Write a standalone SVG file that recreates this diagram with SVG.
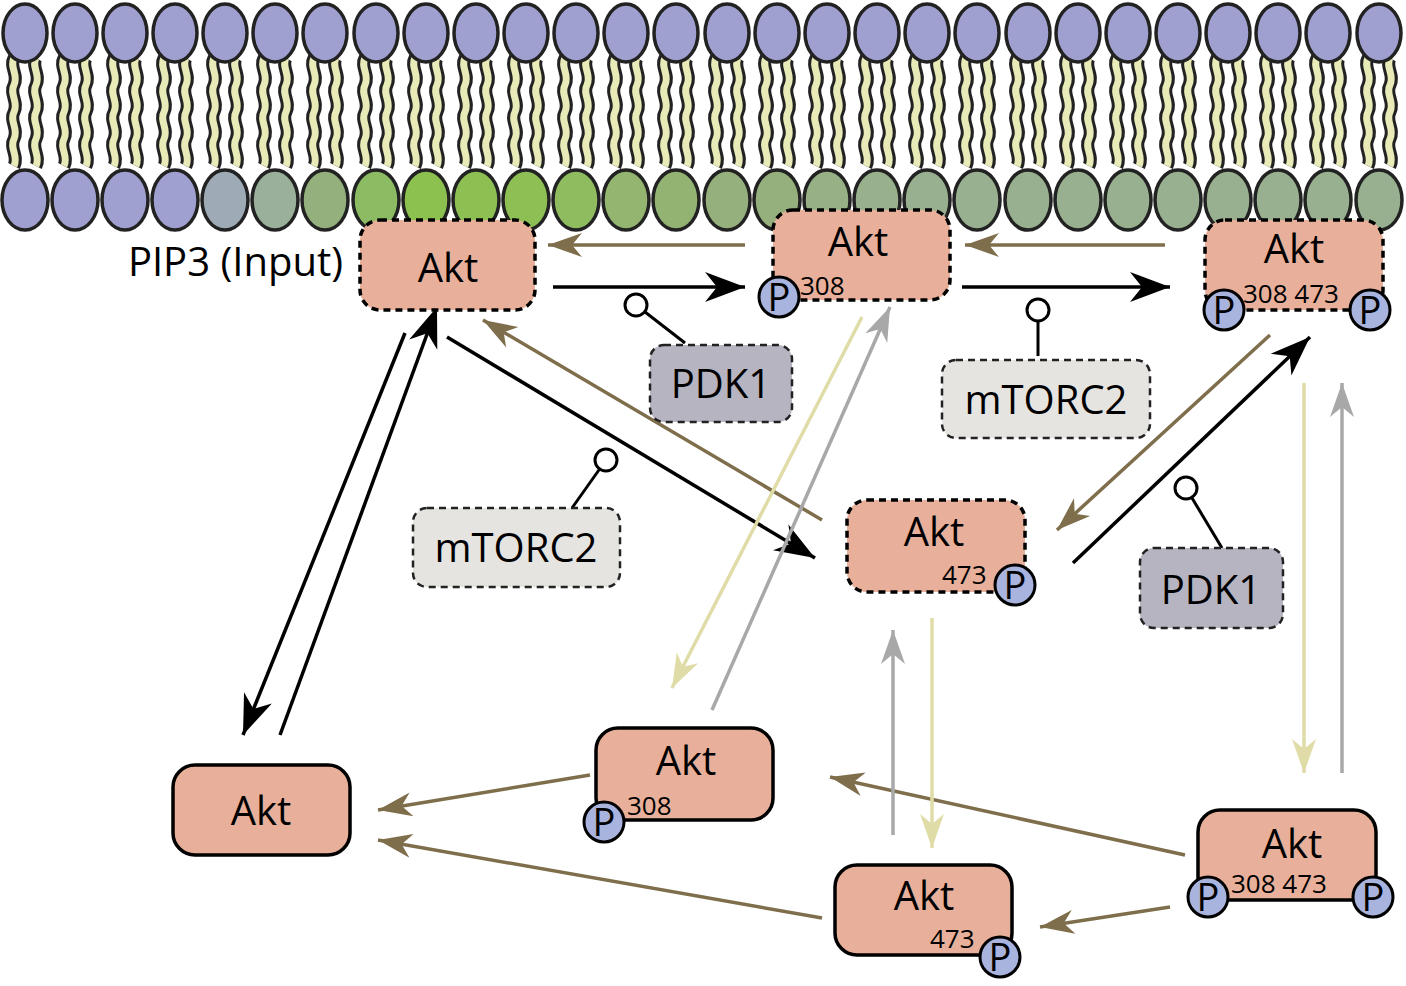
<svg xmlns="http://www.w3.org/2000/svg" xmlns:xlink="http://www.w3.org/1999/xlink" width="1406" height="986" viewBox="0 0 1406 986">
<style>
.t{font-family:"Open Sans","Liberation Sans",sans-serif;fill:#000}
.big{font-size:40px;text-anchor:middle}
.sm{font-size:26px}
.ak{fill:#e8b09a;stroke:#000;stroke-width:3.5}
.dash{stroke-dasharray:7 5}
.pc{fill:#a8b4de;stroke:#000;stroke-width:3}
.pt{font-size:38px;text-anchor:middle}
.ln{fill:none;stroke-width:3.5}
.k{stroke:#000}.b{stroke:#7f6e4b}.y{stroke:#e0dca8}.g{stroke:#a8a8a8}
.to{fill:none;stroke:#222;stroke-width:13}
.ti{fill:none;stroke:#e8eab8;stroke-width:7}
</style>
<defs>
<marker id="mk" markerUnits="userSpaceOnUse" markerWidth="50" markerHeight="40" refX="0" refY="0" viewBox="-40 -20 50 40" orient="auto"><path d="M0,0 L-40,-15 L-28,0 L-40,15 z" fill="#000"/></marker>
<marker id="mb" markerUnits="userSpaceOnUse" markerWidth="50" markerHeight="40" refX="0" refY="0" viewBox="-40 -20 50 40" orient="auto"><path d="M0,0 L-34,-12 L-24,0 L-34,12 z" fill="#7f6e4b"/></marker>
<marker id="my" markerUnits="userSpaceOnUse" markerWidth="50" markerHeight="40" refX="0" refY="0" viewBox="-40 -20 50 40" orient="auto"><path d="M0,0 L-34,-12 L-24,0 L-34,12 z" fill="#e0dca8"/></marker>
<marker id="mg" markerUnits="userSpaceOnUse" markerWidth="50" markerHeight="40" refX="0" refY="0" viewBox="-40 -20 50 40" orient="auto"><path d="M0,0 L-34,-12 L-24,0 L-34,12 z" fill="#a8a8a8"/></marker>
<g id="lip">
<path class="to" d="M-11,58 c-5,9 5,17 0,27 c-5,9 5,17 0,27 c-5,9 5,17 0,27 c-5,9 5,17 0,27"/>
<path class="to" d="M11,58 c-5,9 5,17 0,27 c-5,9 5,17 0,27 c-5,9 5,17 0,27 c-5,9 5,17 0,27"/>
<path class="ti" d="M-11,58 c-5,9 5,17 0,27 c-5,9 5,17 0,27 c-5,9 5,17 0,27 c-5,9 5,17 0,27"/>
<path class="ti" d="M11,58 c-5,9 5,17 0,27 c-5,9 5,17 0,27 c-5,9 5,17 0,27 c-5,9 5,17 0,27"/>
<ellipse cx="0" cy="33" rx="22" ry="29" fill="#a0a0d0" stroke="#222" stroke-width="3.5"/>
</g>
</defs>
<g id="membrane">
<use xlink:href="#lip" x="25"/><use xlink:href="#lip" x="75"/><use xlink:href="#lip" x="125"/><use xlink:href="#lip" x="175"/><use xlink:href="#lip" x="225"/><use xlink:href="#lip" x="275"/><use xlink:href="#lip" x="325"/><use xlink:href="#lip" x="376"/><use xlink:href="#lip" x="426"/><use xlink:href="#lip" x="476"/><use xlink:href="#lip" x="526"/><use xlink:href="#lip" x="576"/><use xlink:href="#lip" x="626"/><use xlink:href="#lip" x="676"/><use xlink:href="#lip" x="727"/><use xlink:href="#lip" x="777"/><use xlink:href="#lip" x="827"/><use xlink:href="#lip" x="877"/><use xlink:href="#lip" x="927"/><use xlink:href="#lip" x="977"/><use xlink:href="#lip" x="1028"/><use xlink:href="#lip" x="1078"/><use xlink:href="#lip" x="1128"/><use xlink:href="#lip" x="1178"/><use xlink:href="#lip" x="1228"/><use xlink:href="#lip" x="1278"/><use xlink:href="#lip" x="1328"/><use xlink:href="#lip" x="1379"/>
<g stroke="#222" stroke-width="3.5">
<ellipse cx="25" cy="200" rx="23" ry="30" fill="#a0a0d0"/><ellipse cx="75" cy="200" rx="23" ry="30" fill="#a0a0d0"/><ellipse cx="125" cy="200" rx="23" ry="30" fill="#a0a0d0"/><ellipse cx="175" cy="200" rx="23" ry="30" fill="#a0a0d0"/><ellipse cx="225" cy="200" rx="23" ry="30" fill="#9eaab5"/><ellipse cx="275" cy="200" rx="23" ry="30" fill="#9ab09a"/><ellipse cx="325" cy="200" rx="23" ry="30" fill="#93b07d"/><ellipse cx="376" cy="200" rx="23" ry="30" fill="#8cbb63"/><ellipse cx="426" cy="200" rx="23" ry="30" fill="#8cc04f"/><ellipse cx="476" cy="200" rx="23" ry="30" fill="#8dbf52"/><ellipse cx="526" cy="200" rx="23" ry="30" fill="#8dbf55"/><ellipse cx="576" cy="200" rx="23" ry="30" fill="#90bc60"/><ellipse cx="626" cy="200" rx="23" ry="30" fill="#93b56f"/><ellipse cx="676" cy="200" rx="23" ry="30" fill="#93b372"/><ellipse cx="727" cy="200" rx="23" ry="30" fill="#95b07c"/><ellipse cx="777" cy="200" rx="23" ry="30" fill="#95b07c"/><ellipse cx="827" cy="200" rx="23" ry="30" fill="#97b085"/><ellipse cx="877" cy="200" rx="23" ry="30" fill="#98b08c"/><ellipse cx="927" cy="200" rx="23" ry="30" fill="#98b090"/><ellipse cx="977" cy="200" rx="23" ry="30" fill="#98b090"/><ellipse cx="1028" cy="200" rx="23" ry="30" fill="#98b090"/><ellipse cx="1078" cy="200" rx="23" ry="30" fill="#98b090"/><ellipse cx="1128" cy="200" rx="23" ry="30" fill="#98b090"/><ellipse cx="1178" cy="200" rx="23" ry="30" fill="#98b090"/><ellipse cx="1228" cy="200" rx="23" ry="30" fill="#98b090"/><ellipse cx="1278" cy="200" rx="23" ry="30" fill="#98b090"/><ellipse cx="1328" cy="200" rx="23" ry="30" fill="#98b090"/><ellipse cx="1379" cy="200" rx="23" ry="30" fill="#98b090"/>
</g>
</g>
<text class="t" x="343" y="276" font-size="40" text-anchor="end">PIP3 (Input)</text>
<g id="connectors">
<line class="ln k" x1="553" y1="287" x2="745" y2="287" marker-end="url(#mk)"/>
<line class="ln k" x1="962" y1="287" x2="1170" y2="287" marker-end="url(#mk)"/>
<line class="ln k" x1="447" y1="337" x2="815" y2="558" marker-end="url(#mk)"/>
<line class="ln k" x1="405" y1="333" x2="243" y2="735" marker-end="url(#mk)"/>
<line class="ln k" x1="280" y1="735" x2="437" y2="307" marker-end="url(#mk)"/>
<line class="ln k" x1="1073" y1="563" x2="1310" y2="337" marker-end="url(#mk)"/>
<line class="ln b" x1="745" y1="245" x2="548" y2="245" marker-end="url(#mb)"/>
<line class="ln b" x1="1165" y1="245" x2="965" y2="245" marker-end="url(#mb)"/>
<line class="ln b" x1="822" y1="520" x2="483" y2="320" marker-end="url(#mb)"/>
<line class="ln b" x1="1270" y1="335" x2="1057" y2="530" marker-end="url(#mb)"/>
<line class="ln b" x1="590" y1="775" x2="378" y2="810" marker-end="url(#mb)"/>
<line class="ln b" x1="822" y1="918" x2="378" y2="840" marker-end="url(#mb)"/>
<line class="ln b" x1="1185" y1="855" x2="830" y2="777" marker-end="url(#mb)"/>
<line class="ln b" x1="1170" y1="907" x2="1040" y2="927" marker-end="url(#mb)"/>
<line class="ln y" x1="862" y1="317" x2="672" y2="688" marker-end="url(#my)"/>
<line class="ln y" x1="1304" y1="383" x2="1304" y2="773" marker-end="url(#my)"/>
<line class="ln y" x1="932" y1="618" x2="932" y2="848" marker-end="url(#my)"/>
<line class="ln g" x1="712" y1="710" x2="890" y2="307" marker-end="url(#mg)"/>
<line class="ln g" x1="1342" y1="773" x2="1342" y2="383" marker-end="url(#mg)"/>
<line class="ln g" x1="893" y1="835" x2="893" y2="630" marker-end="url(#mg)"/>
<g stroke="#000" stroke-width="3" fill="#fff">
<line x1="636" y1="305" x2="685" y2="343"/><circle cx="636" cy="305" r="11"/>
<line x1="1038" y1="310" x2="1038" y2="356"/><circle cx="1038" cy="310" r="11"/>
<line x1="606" y1="460" x2="572" y2="508"/><circle cx="606" cy="460" r="11"/>
<line x1="1186" y1="488" x2="1222" y2="548"/><circle cx="1186" cy="488" r="11"/>
</g>
</g>
<g id="pdk1a"><rect x="650" y="345" width="142" height="77" rx="14" fill="#b6b4c0" stroke="#222" stroke-width="2.5" class="dash"/><text class="t big" x="721" y="398">PDK1</text></g>
<g id="mtorc2a"><rect x="942" y="360" width="208" height="78" rx="14" fill="#e6e4e0" stroke="#222" stroke-width="2.5" class="dash"/><text class="t big" x="1046" y="414">mTORC2</text></g>
<g id="mtorc2b"><rect x="413" y="508" width="207" height="79" rx="14" fill="#e6e4e0" stroke="#222" stroke-width="2.5" class="dash"/><text class="t big" x="516" y="562">mTORC2</text></g>
<g id="pdk1b"><rect x="1140" y="548" width="143" height="80" rx="14" fill="#b6b4c0" stroke="#222" stroke-width="2.5" class="dash"/><text class="t big" x="1211" y="604">PDK1</text></g>
<g id="akt1"><rect class="ak dash" x="360" y="220" width="175" height="90" rx="20"/><text class="t big" x="448" y="282">Akt</text></g>
<g id="akt2"><rect class="ak dash" x="773" y="210" width="177" height="90" rx="20"/><text class="t big" x="858" y="256">Akt</text><circle class="pc" cx="779" cy="297" r="20"/><text class="t pt" x="779" y="311">P</text><text class="t sm" x="800" y="295">308</text></g>
<g id="akt3"><rect class="ak dash" x="1205" y="220" width="178" height="90" rx="20"/><text class="t big" x="1294" y="263">Akt</text><circle class="pc" cx="1224" cy="310" r="20"/><text class="t pt" x="1224" y="324">P</text><circle class="pc" cx="1370" cy="310" r="20"/><text class="t pt" x="1370" y="324">P</text><text class="t sm" x="1243" y="303">308 473</text></g>
<g id="akt4"><rect class="ak dash" x="847" y="500" width="178" height="92" rx="20"/><text class="t big" x="934" y="546">Akt</text><circle class="pc" cx="1015" cy="585" r="20"/><text class="t pt" x="1015" y="599">P</text><text class="t sm" x="942" y="584">473</text></g>
<g id="akt5"><rect class="ak" x="173" y="765" width="177" height="90" rx="22"/><text class="t big" x="261" y="825">Akt</text></g>
<g id="akt6"><rect class="ak" x="596" y="728" width="177" height="92" rx="22"/><text class="t big" x="686" y="775">Akt</text><circle class="pc" cx="604" cy="822" r="20"/><text class="t pt" x="604" y="836">P</text><text class="t sm" x="627" y="815">308</text></g>
<g id="akt7"><rect class="ak" x="835" y="865" width="177" height="90" rx="22"/><text class="t big" x="924" y="910">Akt</text><circle class="pc" cx="1000" cy="957" r="20"/><text class="t pt" x="1000" y="971">P</text><text class="t sm" x="930" y="948">473</text></g>
<g id="akt8"><rect class="ak" x="1198" y="810" width="178" height="90" rx="22"/><text class="t big" x="1292" y="858">Akt</text><circle class="pc" cx="1208" cy="897" r="20"/><text class="t pt" x="1208" y="911">P</text><circle class="pc" cx="1373" cy="897" r="20"/><text class="t pt" x="1373" y="911">P</text><text class="t sm" x="1231" y="893">308  473</text></g>
</svg>
